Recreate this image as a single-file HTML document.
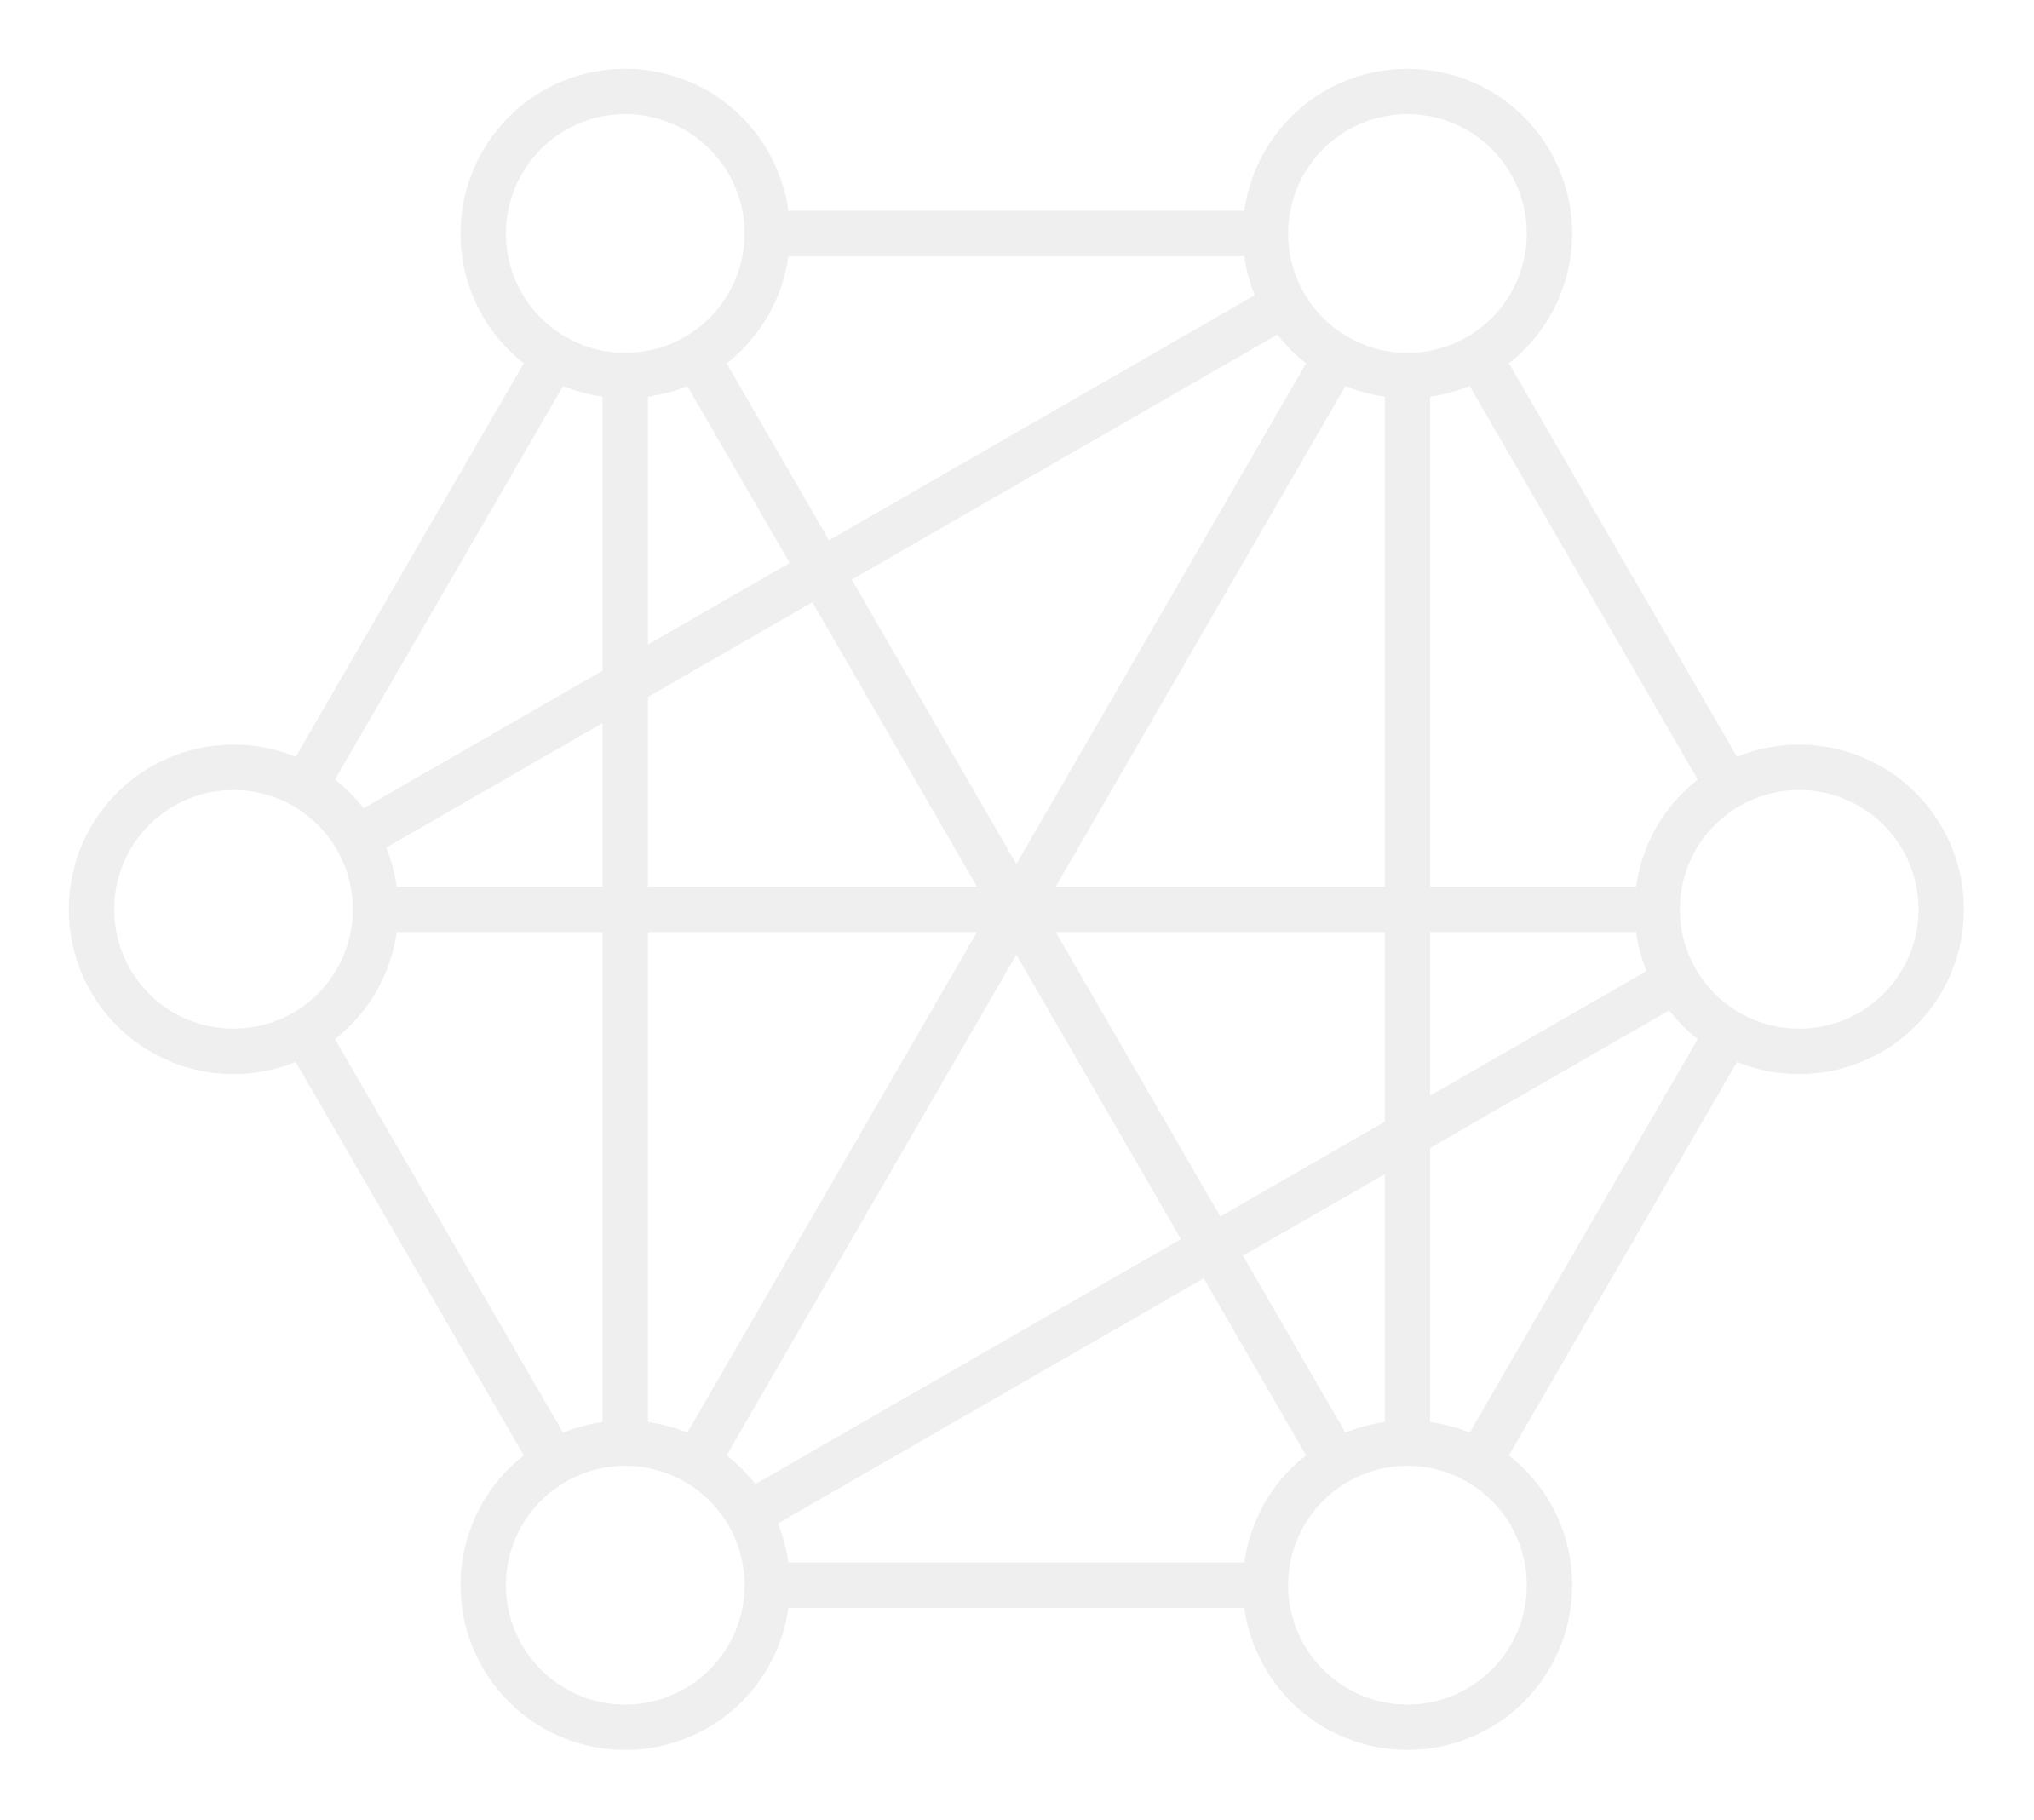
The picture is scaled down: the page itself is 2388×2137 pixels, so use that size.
<!DOCTYPE html>
<html>
<head>
<meta charset="utf-8">
<style>
  html, body { margin: 0; padding: 0; background: #ffffff; }
  svg { display: block; }
</style>
</head>
<body>
<svg id="net" width="2388" height="2137" viewBox="0 0 1568 1403" preserveAspectRatio="none" xmlns="http://www.w3.org/2000/svg">
  <g id="edges"></g>
  <g id="nodes"></g>
</svg>
<script>
const nodeNames = ['top-left', 'top-right', 'left', 'right', 'bottom-left', 'bottom-right'];
const nodeX = [482, 1085, 180, 1387, 482, 1085];
const nodeY = [180, 180, 701, 701, 1222, 1222];
const edgeFrom = [0, 4, 0, 1, 2, 3, 0, 1, 2, 0, 1, 1, 4];
const edgeTo   = [1, 5, 2, 3, 4, 5, 4, 5, 3, 5, 4, 2, 3];

const color = '#efefef';
const stroke = 35;
const ringR = 109.5;
const ns = 'http://www.w3.org/2000/svg';
const edgesG = document.getElementById('edges');
const nodesG = document.getElementById('nodes');

for (let i = 0; i < edgeFrom.length; i++) {
  const a = edgeFrom[i], b = edgeTo[i];
  const ln = document.createElementNS(ns, 'line');
  ln.setAttribute('x1', nodeX[a]);
  ln.setAttribute('y1', nodeY[a]);
  ln.setAttribute('x2', nodeX[b]);
  ln.setAttribute('y2', nodeY[b]);
  ln.setAttribute('stroke', color);
  ln.setAttribute('stroke-width', stroke);
  
  
  edgesG.appendChild(ln);
}

for (let i = 0; i < nodeX.length; i++) {
  const c = document.createElementNS(ns, 'circle');
  c.setAttribute('cx', nodeX[i]);
  c.setAttribute('cy', nodeY[i]);
  c.setAttribute('r', ringR);
  c.setAttribute('fill', '#ffffff');
  c.setAttribute('stroke', color);
  c.setAttribute('stroke-width', stroke);
  
  
  nodesG.appendChild(c);
}
</script>
</body>
</html>
